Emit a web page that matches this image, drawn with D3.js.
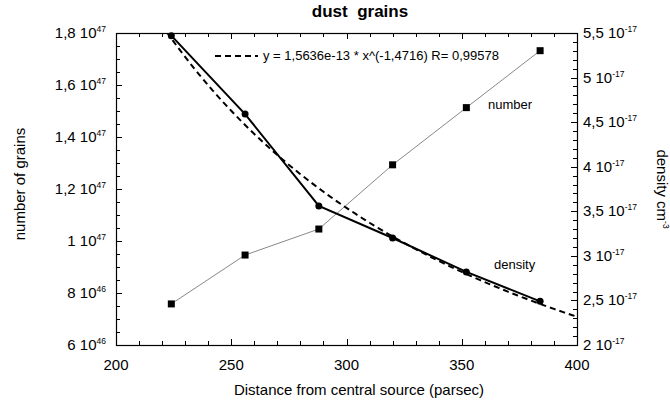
<!DOCTYPE html>
<html>
<head>
<meta charset="utf-8">
<script src="https://cdn.jsdelivr.net/npm/d3@7"></script>
<style>
  body { margin: 0; background: #fff; }
  svg { font-family: Arial, "Liberation Sans", sans-serif; }
</style>
</head>
<body>
<script>
// data
var distance = [224, 256, 288, 320, 352, 384];          // parsec
var grains = [7.58e46, 9.46e46, 1.046e47, 1.293e47, 1.513e47, 1.732e47];
var density = [5.47e-17, 4.59e-17, 3.56e-17, 3.20e-17, 2.82e-17, 2.49e-17];

// power law fit printed on the chart
var fitA = 1.5636e-13;
var fitB = -1.4716;
var fitLabel = "y = 1,5636e-13 * x^(-1,4716) R= 0,99578";
var fitX = d3.range(222, 400.5, 2);

// tick labels
var leftTicks = [[6, 46], [8, 46], [1, 47], [1.2, 47], [1.4, 47], [1.6, 47], [1.8, 47]];
var rightTicks = [[2, -17], [2.5, -17], [3, -17], [3.5, -17], [4, -17], [4.5, -17], [5, -17], [5.5, -17]];
var xTicks = [200, 250, 300, 350, 400];

var W = 670, H = 404;
// plot box (window.top is read only, so not called top)
var pL = 116, pR = 577, pT = 33, pB = 345;

var svg = d3.select("body").append("svg")
    .attr("width", W)
    .attr("height", H);

var x = d3.scaleLinear().domain([200, 400]).range([pL, pR]);
var yL = d3.scaleLinear().domain([6e46, 1.8e47]).range([pB, pT]);
var yR = d3.scaleLinear().domain([2e-17, 5.5e-17]).range([pB, pT]);

var comma = function(v) { return String(v).replace(".", ","); };

// ticks, all pointing inward
var ticks = svg.append("g").attr("stroke", "#000").attr("stroke-width", 1);
d3.range(200, 401, 10).forEach(function(t) {
    var len = (t % 50 == 0) ? 6 : 4;
    var px = Math.round(x(t)) + 0.5;
    ticks.append("line").attr("x1", px).attr("x2", px).attr("y1", pB).attr("y2", pB - len);
    ticks.append("line").attr("x1", px).attr("x2", px).attr("y1", pT).attr("y2", pT + len);
});
d3.range(0, 25).forEach(function(i) {
    var v = 6e46 + i * 5e45;
    var len = (i % 4 == 0) ? 6 : 4;
    var py = Math.round(yL(v)) + 0.5;
    ticks.append("line").attr("x1", pL).attr("x2", pL + len).attr("y1", py).attr("y2", py);
});
d3.range(0, 36).forEach(function(i) {
    var v = 2e-17 + i * 1e-18;
    var len = (i % 5 == 0) ? 6 : 4;
    var py = Math.round(yR(v)) + 0.5;
    ticks.append("line").attr("x1", pR).attr("x2", pR - len).attr("y1", py).attr("y2", py);
});

// frame
svg.append("rect")
    .attr("x", pL + 0.5).attr("y", pT + 0.5)
    .attr("width", pR - pL).attr("height", pB - pT)
    .attr("fill", "none").attr("stroke", "#000").attr("stroke-width", 1.2);

// tick labels
var tickFont = 15;
svg.selectAll(".xl").data(xTicks).enter().append("text")
    .attr("x", function(d) { return x(d); })
    .attr("y", 370)
    .attr("text-anchor", "middle")
    .attr("font-size", tickFont)
    .text(function(d) { return d; });

var sciLabel = function(sel) {
    sel.append("tspan").text(function(d) { return comma(d[0]) + " 10"; });
    sel.append("tspan")
        .attr("font-size", 8.5)
        .attr("dy", "-0.7em")
        .text(function(d) { return d[1]; });
};

svg.selectAll(".yl").data(leftTicks).enter().append("text")
    .attr("x", 106)
    .attr("y", function(d) { return yL(d[0] * Math.pow(10, d[1])) + 5; })
    .attr("text-anchor", "end")
    .attr("font-size", tickFont)
    .call(sciLabel);

svg.selectAll(".yr").data(rightTicks).enter().append("text")
    .attr("x", 583)
    .attr("y", function(d) { return yR(d[0] * Math.pow(10, d[1])) + 5; })
    .attr("font-size", tickFont)
    .call(sciLabel);

// titles
svg.append("text")
    .attr("x", 360).attr("y", 17)
    .attr("text-anchor", "middle")
    .attr("font-size", 17).attr("font-weight", "bold")
    .attr("xml:space", "preserve")
    .text("dust  grains");

svg.append("text")
    .attr("x", 359).attr("y", 395)
    .attr("text-anchor", "middle")
    .attr("font-size", 15)
    .text("Distance from central source (parsec)");

svg.append("text")
    .attr("transform", "translate(25,184) rotate(-90)")
    .attr("text-anchor", "middle")
    .attr("font-size", 15)
    .text("number of grains");

var rl = svg.append("text")
    .attr("transform", "translate(657,189) rotate(90)")
    .attr("text-anchor", "middle")
    .attr("font-size", 15);
rl.append("tspan").text("density cm");
rl.append("tspan").attr("font-size", 8.5).attr("dy", "-0.7em").text("-3");

// number of grains: thin grey line + squares
var lineL = d3.line()
    .x(function(d, i) { return x(distance[i]); })
    .y(function(d) { return yL(d); });
svg.append("path")
    .attr("d", lineL(grains))
    .attr("fill", "none")
    .attr("stroke", "#888")
    .attr("stroke-width", 1);
svg.selectAll(".sq").data(grains).enter().append("rect")
    .attr("x", function(d, i) { return x(distance[i]) - 3.5; })
    .attr("y", function(d) { return yL(d) - 3.5; })
    .attr("width", 7).attr("height", 7)
    .attr("fill", "#000");

// fit curve (dashed)
svg.append("clipPath").attr("id", "plot")
    .append("rect").attr("x", pL).attr("y", pT).attr("width", pR - pL).attr("height", pB - pT);
var lineFit = d3.line()
    .x(function(d) { return x(d); })
    .y(function(d) { return yR(fitA * Math.pow(d, fitB)); });
svg.append("path")
    .attr("d", lineFit(fitX))
    .attr("clip-path", "url(#plot)")
    .attr("fill", "none")
    .attr("stroke", "#000")
    .attr("stroke-width", 2)
    .attr("stroke-dasharray", "6,4");

// density: thick line + dots
var lineR = d3.line()
    .x(function(d, i) { return x(distance[i]); })
    .y(function(d) { return yR(d); });
svg.append("path")
    .attr("d", lineR(density))
    .attr("fill", "none")
    .attr("stroke", "#000")
    .attr("stroke-width", 2);
svg.selectAll(".dot").data(density).enter().append("circle")
    .attr("cx", function(d, i) { return x(distance[i]); })
    .attr("cy", function(d) { return yR(d); })
    .attr("r", 3.5)
    .attr("fill", "#000");

// legend and series labels
svg.append("line")
    .attr("x1", 215).attr("x2", 258).attr("y1", 56).attr("y2", 56)
    .attr("stroke", "#000").attr("stroke-width", 2)
    .attr("stroke-dasharray", "6,4");
svg.append("text")
    .attr("x", 263).attr("y", 60)
    .attr("font-size", 13)
    .text(fitLabel);
svg.append("text")
    .attr("x", 488).attr("y", 109)
    .attr("font-size", 13)
    .text("number");
svg.append("text")
    .attr("x", 494).attr("y", 269)
    .attr("font-size", 13)
    .text("density");
</script>
</body>
</html>
